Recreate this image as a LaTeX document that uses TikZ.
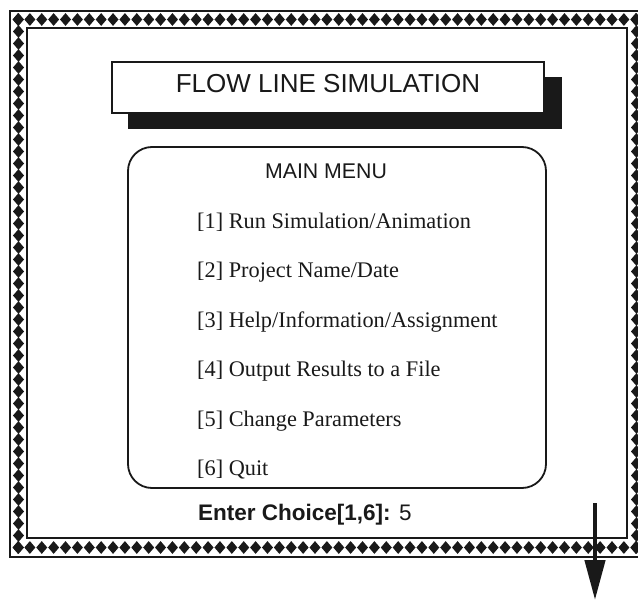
\documentclass[tikz,border=0pt]{standalone}
\usepackage{fontspec}
\setmainfont{Liberation Serif}
\newfontfamily\sansf{Liberation Sans}
\usetikzlibrary{arrows.meta}
\definecolor{ink}{RGB}{25,25,25}
\tikzset{
  menuitem/.style={anchor=base west, inner sep=0pt, font=\fontsize{22.3}{25}\selectfont, text=ink},
  headtext/.style={anchor=base, inner sep=0pt, text=ink},
  diam/.style={fill=ink}
}
\newcommand{\dmd}[2]{\fill[diam] (#1-5.5,#2) -- (#1,#2-6.4) -- (#1+5.5,#2) -- (#1,#2+6.4) -- cycle;}
\begin{document}
\begin{tikzpicture}[x=1pt,y=-1pt]
\useasboundingbox (0,0) rectangle (638,602);
\fill[white] (0,0) rectangle (638,602);
% decorative border
\draw[ink, line width=2.2] (10,11) rectangle (646,557);
\draw[ink, line width=2.2] (27,28) rectangle (627,538);
\foreach \i in {0,...,52}{ \dmd{18+\i*11.88}{19.5} \dmd{18+\i*11.88}{547.5} }
\foreach \i in {0,...,44}{ \dmd{18.5}{19.5+\i*12} \dmd{636.5}{19.5+\i*12} }
% title box with shadow
\fill[ink] (128,77) rectangle (562,129);
\node[draw=ink, fill=white, line width=1.5, minimum width=432, minimum height=51, inner sep=0pt] (title) at (328,87.5) {};
\node[headtext, font=\sansf\fontsize{26}{30}\selectfont] (titletext) at (328,92.5) {FLOW LINE SIMULATION};
% main menu box
\node[draw=ink, line width=1.8, rounded corners=24, minimum width=418, minimum height=341, inner sep=0pt] (menu) at (337,317.5) {};
\node[headtext, font=\sansf\fontsize{21.3}{24}\selectfont] (mm) at (326,178.5) {MAIN MENU};
\node[menuitem] (i1) at (197,228) {[1] Run Simulation/Animation};
\node[menuitem] (i2) at (197,277.5) {[2] Project Name/Date};
\node[menuitem] (i3) at (197,327) {[3] Help/Information/Assignment};
\node[menuitem] (i4) at (197,376.5) {[4] Output Results to a File};
\node[menuitem] (i5) at (197,426) {[5] Change Parameters};
\node[menuitem] (i6) at (197,475.5) {[6] Quit};
\node[menuitem, font=\sansf\fontsize{22.5}{25}\selectfont] (enter) at (198,520.5) {\textbf{Enter Choice[1,6]:} 5};
% arrow
\coordinate (atop) at (595,503);
\coordinate (aend) at (595,600);
\draw[ink, line width=4.5, -{Triangle[width=20pt,length=40pt]}] (atop) -- (aend);
\end{tikzpicture}
\end{document}
